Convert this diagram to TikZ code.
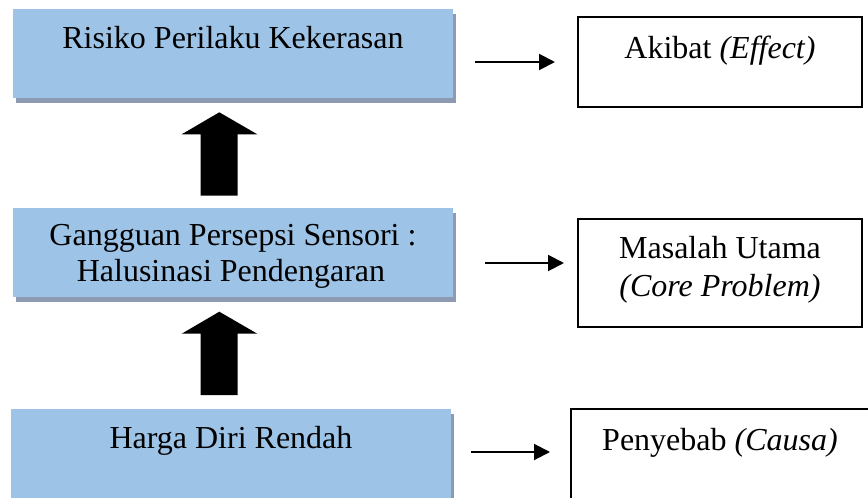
\documentclass[tikz,border=0pt]{standalone}
\usepackage{fontspec}
\setmainfont{Liberation Serif}
\usetikzlibrary{shadows,arrows.meta}
\definecolor{boxblue}{HTML}{9DC3E6}
\definecolor{shadowgray}{HTML}{8E9AB2}
\begin{document}
\begin{tikzpicture}[x=0.5pt,y=-0.5pt,
  bluebox/.style={rectangle, fill=boxblue, inner sep=0pt, minimum width=220pt,
    drop shadow={shadow xshift=1.5pt, shadow yshift=-2.5pt, fill=shadowgray, opacity=1}},
  whitebox/.style={rectangle, draw=black, line width=1pt, inner sep=0pt},
  lbl/.style={anchor=base, inner sep=0pt, font=\fontsize{16pt}{19pt}\selectfont},
  conn/.style={line width=1pt, -{Triangle[length=8pt,width=8pt]}},
  bigarrow/.style={fill=black}]
\useasboundingbox (0,0) rectangle (868,498);
\clip (0,0) rectangle (868,498);
% blue boxes
\node[bluebox, minimum height=44.5pt] (b1) at (233,53.5) {};
\node[bluebox, minimum height=44.5pt] (b2) at (233,252.5) {};
\node[bluebox, minimum height=55.5pt] (b3) at (231,464.5) {};
% white boxes
\node[whitebox, minimum width=142pt, minimum height=45pt] (wA) at (720,62) {};
\node[whitebox, minimum width=142pt, minimum height=54pt] (wB) at (720,273) {};
\node[whitebox, minimum width=154.5pt, minimum height=55.5pt] (wC) at (725.5,464.5) {};
% texts
\node[lbl] (t1) at (233,48.3) {Risiko Perilaku Kekerasan};
\begin{scope}
\clip (13,200) rectangle (453,287);
\node[lbl] (t2a) at (233,245) {Gangguan Persepsi Sensori :};
\node[lbl] (t2b) at (231,281.7) {Halusinasi Pendengaran};
\end{scope}
\node[lbl] (t3) at (231,448.3) {Harga Diri Rendah};
\node[lbl] (tA) at (720,58.3) {Akibat \textit{(Effect)}};
\node[lbl] (tB1) at (720,258.3) {Masalah Utama};
\node[lbl] (tB2) at (720,296.7) {\textit{(Core Problem)}};
\node[lbl] (tC) at (720,450) {Penyebab \textit{(Causa)}};
% big arrows
\fill[bigarrow] (200.7,195.7) -- (200.7,134.3) -- (181.7,134.3) -- (219.3,112.3)
  -- (257.3,134.3) -- (237.7,134.3) -- (237.7,195.7) -- cycle;
\fill[bigarrow] (200.7,395) -- (200.7,333.7) -- (181.7,333.7) -- (219.3,311.7)
  -- (257.3,333.7) -- (237.7,333.7) -- (237.7,395) -- cycle;
% small connectors
\coordinate (aAs) at (475,62);
\coordinate (aAe) at (555,62);
\coordinate (aBs) at (485,263);
\coordinate (aBe) at (564,263);
\coordinate (aCs) at (471,452);
\coordinate (aCe) at (550,452);
\draw[conn] (aAs) -- (aAe);
\draw[conn] (aBs) -- (aBe);
\draw[conn] (aCs) -- (aCe);
\end{tikzpicture}
\end{document}
